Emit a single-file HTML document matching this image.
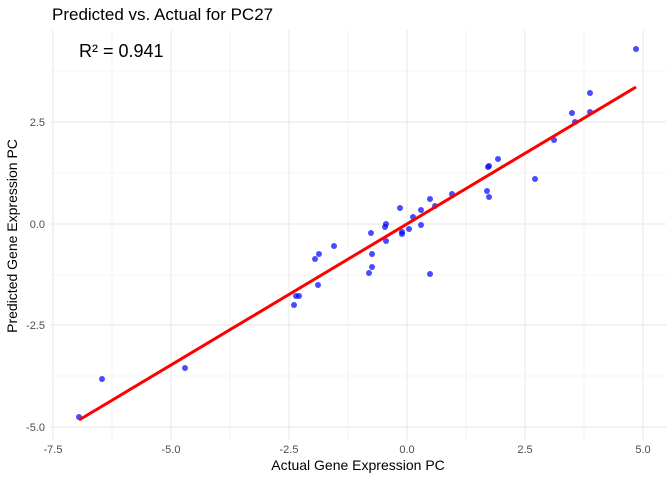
<!DOCTYPE html>
<html><head><style>body{margin:0;background:#fff}svg{display:block}</style></head><body>
<svg width="672" height="480" xmlns="http://www.w3.org/2000/svg" font-family="Liberation Sans, sans-serif">
<rect width="672" height="480" fill="#fff"/>
<g stroke="#ebebeb" stroke-width="0.6">
<line x1="112" x2="112" y1="30" y2="440"/><line x1="230" x2="230" y1="30" y2="440"/><line x1="348" x2="348" y1="30" y2="440"/><line x1="466" x2="466" y1="30" y2="440"/><line x1="584" x2="584" y1="30" y2="440"/>
<line x1="50" x2="666" y1="71" y2="71"/><line x1="50" x2="666" y1="173" y2="173"/><line x1="50" x2="666" y1="275" y2="275"/><line x1="50" x2="666" y1="376" y2="376"/>
</g>
<g stroke="#ebebeb" stroke-width="1.2">
<line x1="53" x2="53" y1="30" y2="440"/><line x1="171" x2="171" y1="30" y2="440"/><line x1="289" x2="289" y1="30" y2="440"/><line x1="407" x2="407" y1="30" y2="440"/><line x1="525" x2="525" y1="30" y2="440"/><line x1="643" x2="643" y1="30" y2="440"/>
<line x1="50" x2="666" y1="122" y2="122"/><line x1="50" x2="666" y1="224" y2="224"/><line x1="50" x2="666" y1="325" y2="325"/><line x1="50" x2="666" y1="427" y2="427"/>
</g>
<g fill="#0000ff" fill-opacity="0.7">
<circle cx="79" cy="417" r="3"/><circle cx="102" cy="379" r="3"/><circle cx="185" cy="368" r="3"/>
<circle cx="294" cy="305" r="3"/><circle cx="296" cy="296" r="3"/><circle cx="299" cy="296" r="3"/><circle cx="318" cy="285" r="3"/>
<circle cx="319" cy="254" r="3"/><circle cx="315" cy="259" r="3"/><circle cx="334" cy="246" r="3"/>
<circle cx="369" cy="273" r="3"/><circle cx="372" cy="267" r="3"/><circle cx="372" cy="254" r="3"/><circle cx="371" cy="233" r="3"/>
<circle cx="386" cy="241" r="3"/><circle cx="385" cy="227" r="3"/><circle cx="386" cy="224" r="3"/><circle cx="400" cy="208" r="3"/>
<circle cx="402" cy="232" r="3"/><circle cx="402" cy="234" r="3"/><circle cx="409" cy="229" r="3"/><circle cx="413" cy="217" r="3"/>
<circle cx="421" cy="225" r="3"/><circle cx="421" cy="210" r="3"/><circle cx="430" cy="199" r="3"/><circle cx="430" cy="274" r="3"/>
<circle cx="435" cy="206" r="3"/><circle cx="452" cy="194" r="3"/><circle cx="488" cy="167" r="3"/><circle cx="489" cy="166" r="3"/>
<circle cx="487" cy="191" r="3"/><circle cx="489" cy="197" r="3"/><circle cx="498" cy="159" r="3"/><circle cx="535" cy="179" r="3"/>
<circle cx="554" cy="140" r="3"/><circle cx="572" cy="113" r="3"/><circle cx="575" cy="122" r="3"/><circle cx="590" cy="112" r="3"/>
<circle cx="590" cy="93" r="3"/><circle cx="636" cy="49" r="3"/>
</g>
<line x1="79" y1="420" x2="636" y2="87" stroke="#ff0000" stroke-width="3"/>
<text x="79" y="57" font-size="18" fill="#000">R² = 0.941</text>
<g font-size="11" fill="#4d4d4d" text-anchor="end">
<text x="45" y="126">2.5</text><text x="45" y="228">0.0</text><text x="45" y="329">-2.5</text><text x="45" y="431">-5.0</text>
</g>
<g font-size="11" fill="#4d4d4d" text-anchor="middle">
<text x="53" y="453">-7.5</text><text x="171" y="453">-5.0</text><text x="289" y="453">-2.5</text><text x="407" y="453">0.0</text><text x="525" y="453">2.5</text><text x="643" y="453">5.0</text>
</g>
<text x="358" y="470" font-size="14" text-anchor="middle">Actual Gene Expression PC</text>
<text transform="translate(17,236) rotate(-90)" font-size="14" text-anchor="middle">Predicted Gene Expression PC</text>
<text x="52" y="20" font-size="17">Predicted vs. Actual for PC27</text>
</svg>
</body></html>
